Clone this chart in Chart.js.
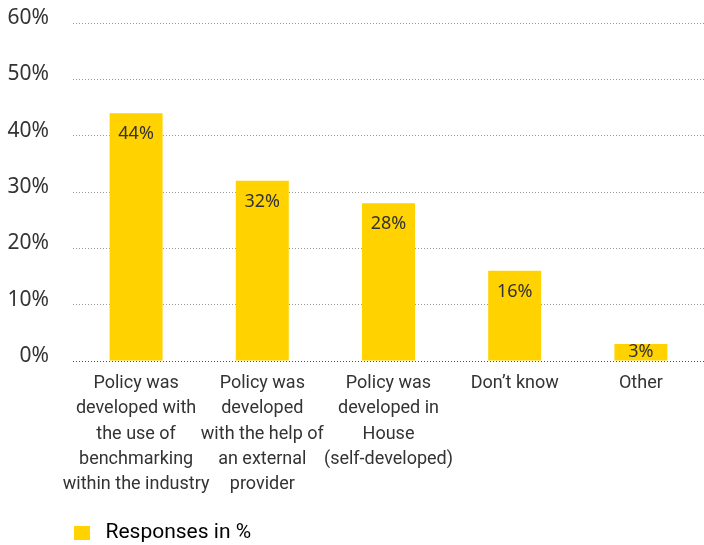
<!DOCTYPE html>
<html>
<head>
<meta charset="utf-8">
<script src="https://cdn.jsdelivr.net/npm/chart.js@4.4.1/dist/chart.umd.min.js"></script>
<style>
html,body{margin:0;padding:0;background:#ffffff;}
#wrap{width:704px;height:545px;position:relative;}
</style>
</head>
<body>
<div id="wrap"><canvas id="c" width="704" height="545"></canvas></div>
<script>
// ---- data ----
const categories = [
  ["Policy was", "developed with", "the use of", "benchmarking", "within the industry"],
  ["Policy was", "developed", "with the help of", "an external", "provider"],
  ["Policy was", "developed in", "House", "(self-developed)"],
  "Don’t know",
  "Other"
];
const responses = [44, 32, 28, 16, 3];
const yTickValues = [0, 10, 20, 30, 40, 50, 60];
const seriesName = "Responses in %";

// ---- styles ----
const YELLOW = "#FFD200";
const TEXT = "#333333";

const valueLabels = {
  id: "valueLabels",
  afterDatasetsDraw(chart) {
    const ctx = chart.ctx;
    const meta = chart.getDatasetMeta(0);
    ctx.save();
    ctx.font = "18px 'Noto Sans'";
    ctx.fillStyle = TEXT;
    ctx.textAlign = "center";
    ctx.textBaseline = "middle";
    meta.data.forEach((bar, i) => {
      const v = chart.data.datasets[0].data[i];
      const y = Math.min(bar.y + 21, bar.base - 9);
      ctx.fillText(v + "%", bar.x, y);
    });
    ctx.restore();
  }
};

const legendPlacer = {
  id: "legendPlacer",
  afterLayout(chart) {
    const lg = chart.legend;
    if (!lg) return;
    lg.left = 59;
    lg.top = 511;
  }
};

new Chart(document.getElementById("c"), {
  type: "bar",
  data: {
    labels: categories,
    datasets: [{
      label: seriesName,
      data: responses,
      backgroundColor: YELLOW,
      borderWidth: 0,
      barPercentage: 0.42,
      categoryPercentage: 1.0
    }]
  },
  options: {
    responsive: false,
    animation: false,
    devicePixelRatio: 1,
    layout: { padding: { top: 23, right: 0, bottom: 0, left: 0 } },
    scales: {
      x: {
        grid: { display: false, drawTicks: false },
        border: { display: false },
        ticks: {
          color: TEXT,
          font: { family: "Roboto", size: 18, lineHeight: 1.4 },
          padding: 10,
          maxRotation: 0,
          minRotation: 0,
          autoSkip: false
        },
        afterFit(scale) { scale.height = 140; scale.paddingLeft = 0; scale.paddingRight = 0; }
      },
      y: {
        min: 0,
        max: 60,
        afterBuildTicks(scale) { scale.ticks = yTickValues.map(v => ({ value: v })); },
        grid: {
          drawTicks: false,
          color: ctx => (ctx.tick && ctx.tick.value === 0) ? "#555555" : "#9a9a9a",
          lineWidth: 1
        },
        border: { display: false, dash: [1, 2] },
        ticks: {
          color: TEXT,
          font: { family: "'Noto Sans'", size: 21 },
          padding: 24,
          labelOffset: -5,
          callback: v => v + "%"
        },
        afterFit(scale) { scale.width = 73; scale.paddingTop = 0; scale.paddingBottom = 0; }
      }
    },
    plugins: {
      legend: {
        display: true,
        position: "bottom",
        align: "start",
        labels: {
          color: TEXT,
          font: { family: "Roboto", size: 21 },
          boxWidth: 26,
          boxHeight: 24,
          padding: 10,
          generateLabels(chart) {
            return [{
              text: seriesName,
              fillStyle: YELLOW,
              strokeStyle: "#ffffff",
              lineWidth: 10,
              hidden: false,
              datasetIndex: 0
            }];
          }
        }
      },
      tooltip: { enabled: false },
      title: { display: false }
    }
  },
  plugins: [valueLabels, legendPlacer]
});
</script>
</body>
</html>
